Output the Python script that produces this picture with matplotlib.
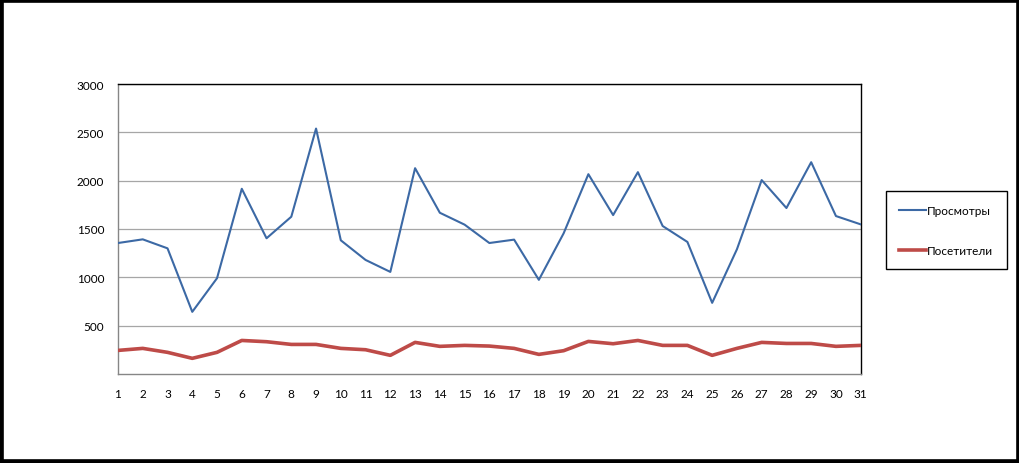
import matplotlib.pyplot as plt
from matplotlib.patches import Rectangle

days = list(range(1, 32))
views = [1355, 1393, 1300, 643, 991, 1916, 1404, 1627, 2539, 1383,
         1180, 1056, 2129, 1668, 1545, 1355, 1390, 974, 1455, 2067,
         1644, 2088, 1531, 1366, 736, 1290, 2006, 1717, 2191, 1634, 1548]
visitors = [244, 265, 224, 162, 224, 347, 334, 306, 306, 265,
            251, 193, 327, 286, 296, 289, 265, 203, 241, 337,
            313, 347, 296, 296, 193, 265, 327, 316, 316, 286, 296]
yticks = [500, 1000, 1500, 2000, 2500, 3000]

plt.rcParams['font.family'] = ['Lato', 'DejaVu Sans']

fig = plt.figure(figsize=(10.2, 4.64), dpi=100)
ax = fig.add_axes([118 / 1020, 89 / 464, 742.7 / 1020, 290 / 464])

ax.plot(days, views, color='#3C69A5', lw=1.5, label='Просмотры', zorder=3)
ax.plot(days, visitors, color='#BE4B48', lw=2.6, label='Посетители', zorder=3)

ax.set_xlim(1, 31)
ax.set_ylim(0, 3000)
ax.set_xticks(days)
ax.set_yticks(yticks)
ax.tick_params(length=0, labelsize=8.5)
ax.tick_params(axis='x', pad=10)
ax.tick_params(axis='y', pad=10)
ax.grid(axis='y', color='#A6A6A6', lw=0.9)
ax.set_axisbelow(True)
for s in ['left', 'bottom']:
    ax.spines[s].set_color('#868686')
for s in ['top', 'right']:
    ax.spines[s].set_color('black')
for s in ax.spines.values():
    s.set_linewidth(1.0)

leg = fig.legend(loc='upper left', bbox_to_anchor=(885.7 / 1020, 1 - 192.3 / 464),
                 borderaxespad=0, fontsize=8.5, fancybox=False, edgecolor='black',
                 framealpha=1, handlelength=2.3, handletextpad=0.05,
                 labelspacing=2.45, borderpad=1.15)
leg.get_frame().set_linewidth(1.0)

fig.patches.append(Rectangle((0, 0), 1, 1, transform=fig.transFigure,
                             fill=False, edgecolor='black', lw=5.5))

fig.savefig('out.png', dpi=100)
